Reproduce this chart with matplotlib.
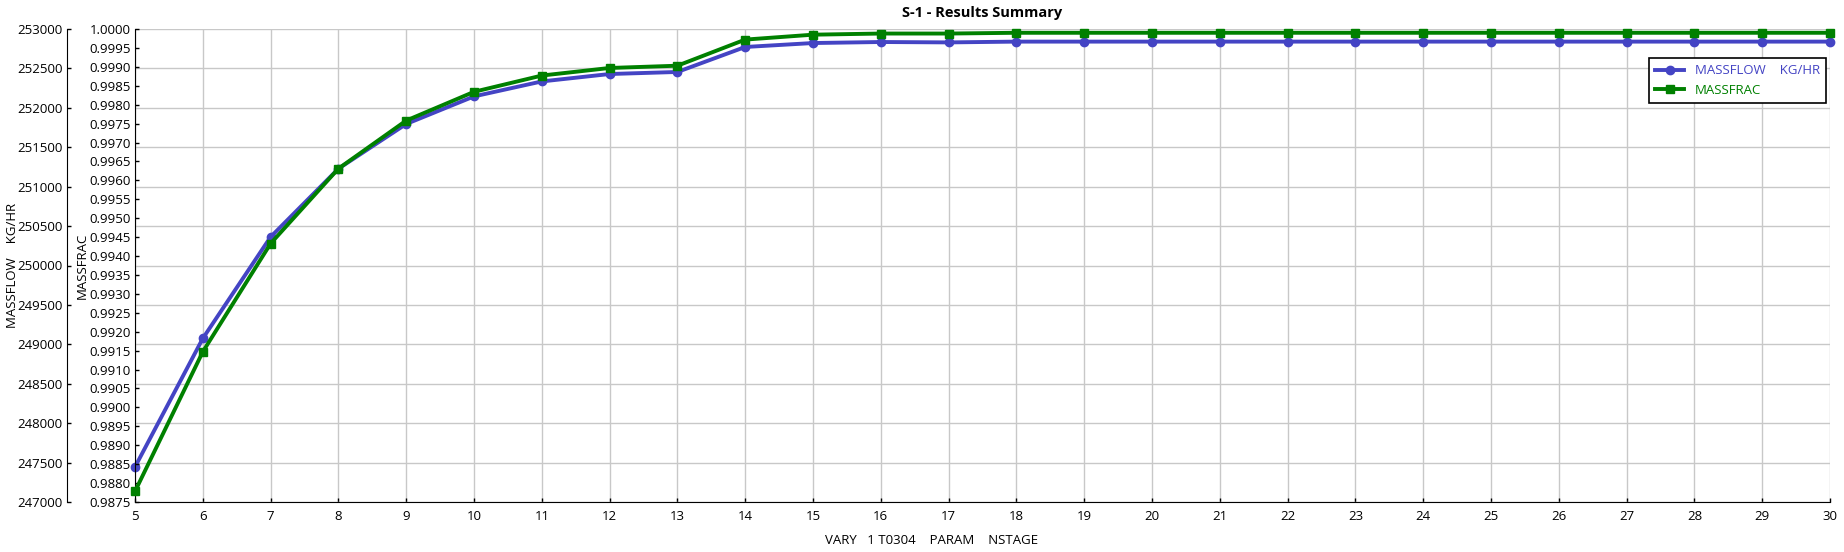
import matplotlib
matplotlib.use("Agg")
import matplotlib.pyplot as plt
from matplotlib.ticker import MultipleLocator, FormatStrFormatter

plt.rcParams['font.family'] = ['Open Sans', 'DejaVu Sans']

nstage = list(range(5, 31))
massflow = [247444, 249075, 250362, 251228, 251795, 252145, 252335, 252429, 252455,
            252772, 252822, 252835, 252830, 252840, 252840, 252840, 252840, 252840,
            252840, 252840, 252840, 252840, 252840, 252840, 252840, 252840]
massfrac = [0.98778, 0.99147, 0.99433, 0.99631, 0.99758, 0.99834, 0.99877, 0.99897, 0.99903,
            0.99972, 0.99985, 0.99988, 0.99988, 0.99990, 0.99990, 0.99990, 0.99990, 0.99990,
            0.99990, 0.99990, 0.99990, 0.99990, 0.99990, 0.99990, 0.99990, 0.99990]

title = "S-1 - Results Summary"
xlabel = "VARY   1 T0304    PARAM    NSTAGE"
flow_label = "MASSFLOW    KG/HR"
frac_label = "MASSFRAC"

blue = "#4444C4"
green = "#008000"

W, H = 1844, 552
fig = plt.figure(figsize=(W / 100, H / 100), dpi=100)
left, right, top, bottom = 135, 1830, 29, 502
ax = fig.add_axes([left / W, 1 - bottom / H, (right - left) / W, (bottom - top) / H])
ax2 = ax.twinx()

# flow axis (outer)
ax.set_xlim(5, 30)
ax.set_ylim(247000, 253000)
ax.xaxis.set_major_locator(MultipleLocator(1))
ax.yaxis.set_major_locator(MultipleLocator(500))
ax.grid(True, color="#C8C8C8", linewidth=1.0)
ax.set_axisbelow(True)
ax.spines['left'].set_position(('outward', 49))
ax.spines['top'].set_visible(False)
ax.spines['right'].set_visible(False)
ax.tick_params(axis='both', direction='in', length=3, width=1, labelsize=9.5, pad=3)
ax.tick_params(axis='x', pad=6)

# frac axis (inner)
ax2.set_ylim(0.9875, 1.0)
ax2.yaxis.set_major_locator(MultipleLocator(0.0005))
ax2.yaxis.set_major_formatter(FormatStrFormatter('%.4f'))
ax2.yaxis.set_ticks_position('left')
ax2.yaxis.set_label_position('left')
ax2.spines['left'].set_visible(True)
ax2.spines['left'].set_position(('outward', 0))
ax2.spines['top'].set_visible(False)
ax2.spines['right'].set_visible(False)
ax2.spines['bottom'].set_visible(False)
ax2.tick_params(axis='y', direction='in', length=3, width=1, labelsize=9.5, pad=3)

l1, = ax.plot(nstage, massflow, color=blue, linewidth=2.8, marker='o', markersize=6,
              label=flow_label, clip_on=False, zorder=3)
l2, = ax2.plot(nstage, massfrac, color=green, linewidth=2.8, marker='s', markersize=6,
               label=frac_label, clip_on=False, zorder=3)

ax.set_ylabel(flow_label, fontsize=9.5)
ax.yaxis.set_label_coords((19 - left) / (right - left), 0.5)
ax2.set_ylabel(frac_label, fontsize=9.5)
ax2.yaxis.set_label_coords((89 - left) / (right - left), 0.5)

fig.text(932 / W, 1 - 540 / H, xlabel, fontsize=9.5, ha='center', va='center')
fig.text((left + right) / 2 / W, 1 - 13 / H, title, fontsize=10.5, fontweight='bold',
         ha='center', va='center')

leg = ax2.legend(handles=[l1, l2], loc='upper right',
                 bbox_to_anchor=(1833 / W, 1 - 51 / H), bbox_transform=fig.transFigure,
                 fancybox=False, edgecolor='black', framealpha=1, fontsize=9.5,
                 handlelength=2.2, borderpad=0.5, labelspacing=0.5)
leg.get_frame().set_linewidth(1.2)
for txt, col in zip(leg.get_texts(), [blue, green]):
    txt.set_color(col)

fig.savefig("out.png", dpi=100)
